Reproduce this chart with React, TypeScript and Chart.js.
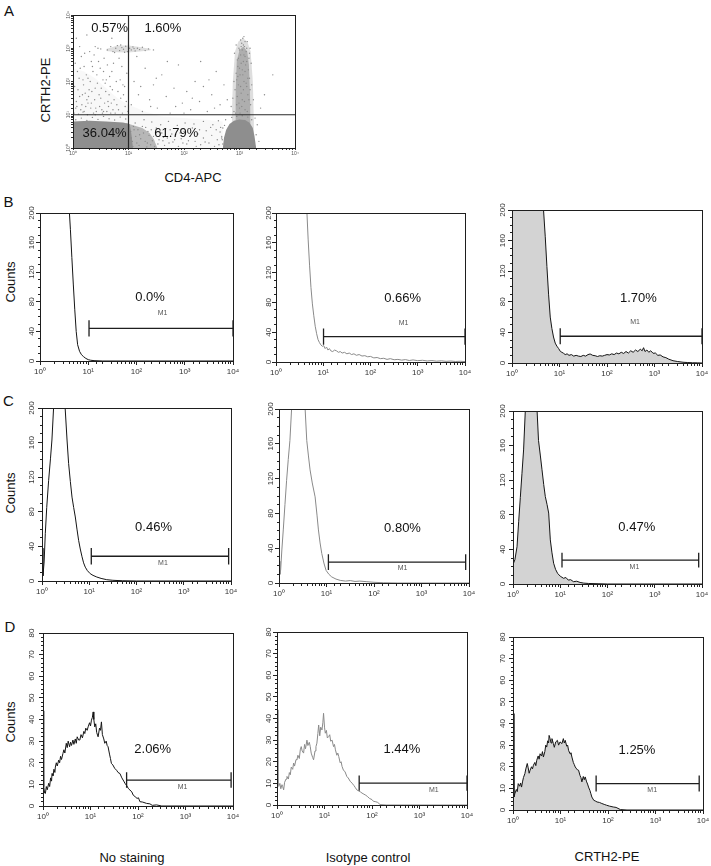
import React, { useEffect, useRef } from "react";
import { Chart, registerables } from "chart.js";
Chart.register(...registerables);

const FONT = '"Liberation Sans", Arial, Helvetica, sans-serif';
type Pt = [number, number];
type Txt = [number, number, string];

// ================= Panel A (values in log10 units) =================
const aCoreLowLeft: Pt[] = [[0, 0.8], [0.3, 0.82], [0.6, 0.8], [0.9, 0.77], [1.02, 0.72], [1.05, 0.45], [1.08, 0]];
const aHaloLowLeft: Pt[] = [[0.95, 0.75], [1.1, 0.68], [1.25, 0.6], [1.38, 0.45], [1.46, 0.25], [1.52, 0]];
const aCoreLowRight: Pt[] = [[2.7, 0], [2.72, 0.3], [2.76, 0.55], [2.82, 0.72], [2.9, 0.82], [3.0, 0.86], [3.1, 0.84], [3.18, 0.76], [3.24, 0.6], [3.27, 0.35], [3.3, 0]];
const aStreakOuter: Pt[] = [[2.86, 0.8], [2.88, 2.0], [2.92, 2.9], [2.98, 3.2], [3.06, 3.3], [3.14, 3.2], [3.2, 2.9], [3.24, 2.0], [3.26, 0.8]];
const aStreakInner: Pt[] = [[2.92, 0.8], [2.93, 1.6], [2.95, 2.6], [3.0, 2.95], [3.07, 3.05], [3.14, 2.9], [3.17, 2.5], [3.19, 1.6], [3.2, 0.8]];
const aBandTop: Pt[] = [[0.6, 2.98], [0.8, 3.08], [1.0, 3.08], [1.2, 3.04], [1.4, 2.98]];
const aBandBottom: Pt[] = [[0.6, 2.92], [0.8, 2.88], [1.0, 2.87], [1.2, 2.9], [1.4, 2.94]];
const aHaze: Pt[] = [[0, 2.4], [0.2, 2.3], [0.4, 2.1], [0.6, 1.8], [0.8, 1.5], [1.0, 1.3], [1.3, 1.1], [1.6, 0.95], [2.0, 0.9], [2.4, 0.85], [2.7, 0.8]];
const aDotsUpperLeft: Pt[] = [[0.05, 1.2], [0.12, 1.55], [0.2, 1.1], [0.27, 2.1], [0.33, 1.35], [0.4, 1.8], [0.46, 2.6], [0.52, 1.15], [0.58, 1.95], [0.63, 1.4], [0.7, 2.3], [0.76, 1.05], [0.81, 1.7], [0.88, 2.45], [0.94, 1.25], [0.08, 2.3], [0.15, 2.75], [0.22, 1.65], [0.3, 2.9], [0.37, 1.05], [0.43, 2.2], [0.5, 1.5], [0.56, 2.7], [0.61, 1.1], [0.67, 1.85], [0.73, 2.55], [0.79, 1.3], [0.85, 2.05], [0.91, 1.6], [0.97, 2.25], [0.03, 1.85], [0.1, 1.02], [0.18, 2.05], [0.25, 1.45], [0.35, 2.45], [0.48, 1.25], [0.55, 2.3], [0.65, 1.6], [0.72, 1.15], [0.83, 2.7], [0.9, 1.9], [0.16, 1.3], [0.29, 1.75], [0.41, 1.2], [0.6, 2.05], [0.69, 1.35], [0.45, 3.0], [0.2, 2.45], [0.12, 3.05], [0.38, 2.8]];
const aDotsUpperLeft2: Pt[] = [[0.02, 1.05], [0.06, 1.4], [0.09, 1.75], [0.11, 2.1], [0.14, 1.15], [0.17, 1.6], [0.19, 1.9], [0.23, 1.25], [0.24, 2.2], [0.26, 1.0], [0.28, 1.55], [0.31, 2.0], [0.32, 1.2], [0.34, 1.7], [0.36, 2.3], [0.39, 1.45], [0.42, 1.1], [0.44, 1.95], [0.47, 1.6], [0.49, 2.4], [0.51, 1.8], [0.53, 1.05], [0.54, 2.05], [0.57, 1.35], [0.59, 1.7], [0.62, 2.5], [0.64, 1.25], [0.66, 2.15], [0.68, 1.05], [0.71, 1.75], [0.74, 1.45], [0.78, 2.0], [0.82, 1.15], [0.86, 1.5], [0.89, 1.05], [0.93, 1.85], [0.96, 1.4], [0.99, 1.1], [0.04, 2.55], [0.07, 1.25], [0.13, 2.4], [0.21, 2.85], [0.27, 1.35], [0.33, 2.6], [0.4, 1.0], [0.06, 3.3], [0.25, 3.4], [0.7, 3.3], [0.55, 1.1], [0.18, 1.08]];
const aDotsUpperRight: Pt[] = [[1.05, 1.3], [1.1, 2.0], [1.18, 1.6], [1.25, 1.1], [1.3, 2.4], [1.38, 1.45], [1.45, 1.9], [1.52, 1.2], [1.6, 2.2], [1.68, 1.55], [1.75, 1.05], [1.82, 1.8], [1.9, 2.5], [1.97, 1.35], [2.05, 1.7], [2.12, 1.15], [2.2, 2.0], [2.28, 1.4], [2.35, 1.85], [2.42, 1.1], [2.5, 1.6], [2.58, 2.3], [2.65, 1.3], [2.72, 1.9], [1.15, 2.75], [1.4, 1.25], [1.7, 2.6], [2.0, 1.05], [2.3, 2.6], [2.55, 1.2], [1.22, 1.85], [1.5, 2.1], [1.85, 1.25], [2.15, 1.5], [2.45, 2.05], [2.78, 1.45], [3.45, 1.6], [3.6, 2.2], [3.38, 1.2]];
const aDotsBand: Pt[] = [[0.62, 2.95], [0.68, 3.05], [0.72, 2.9], [0.77, 3.0], [0.8, 3.08], [0.84, 2.93], [0.88, 3.02], [0.91, 2.97], [0.95, 3.06], [0.98, 2.9], [1.02, 3.0], [1.05, 2.95], [1.08, 3.04], [1.12, 2.92], [1.16, 3.0], [1.2, 2.96], [1.25, 3.03], [1.3, 2.93], [1.36, 2.98], [0.86, 3.1], [0.93, 2.88], [1.0, 3.1], [1.1, 2.99], [0.75, 2.87], [0.5, 2.98], [0.4, 3.05], [1.45, 2.95]];
const aDotsStreak: Pt[] = [[2.9, 1.1], [2.95, 1.3], [3.0, 1.2], [3.05, 1.45], [3.1, 1.15], [3.15, 1.6], [3.2, 1.3], [2.92, 1.75], [2.98, 1.9], [3.03, 1.65], [3.08, 2.0], [3.13, 1.85], [3.18, 2.1], [2.94, 2.25], [3.0, 2.4], [3.06, 2.2], [3.11, 2.5], [3.16, 2.35], [2.96, 2.65], [3.02, 2.8], [3.07, 2.6], [3.12, 2.9], [3.17, 2.7], [2.99, 3.0], [3.04, 3.15], [3.09, 3.05], [3.14, 3.2], [3.06, 3.3], [2.9, 2.0], [3.22, 1.9], [3.21, 2.55], [2.88, 1.5], [2.91, 2.85], [3.19, 3.0], [2.85, 1.25], [3.25, 1.45], [3.01, 1.05], [3.1, 2.75], [2.97, 2.15], [3.05, 2.95]];
const aDotsStreak2: Pt[] = [[2.93, 1.05], [2.96, 1.55], [2.99, 1.35], [3.02, 1.85], [3.04, 1.25], [3.07, 1.75], [3.09, 1.4], [3.12, 1.95], [3.14, 1.1], [3.17, 1.45], [3.19, 1.75], [2.95, 2.05], [2.97, 2.45], [3.01, 2.2], [3.03, 2.55], [3.05, 2.35], [3.08, 2.8], [3.1, 2.3], [3.13, 2.6], [3.15, 2.1], [2.98, 2.7], [3.0, 2.95], [3.03, 3.05], [3.07, 3.1], [3.1, 3.2], [3.13, 3.0], [3.02, 3.25], [3.08, 3.35], [2.94, 3.1], [3.18, 2.85]];
const aDotsLowMid: Pt[] = [[1.05, 0.3], [1.1, 0.55], [1.15, 0.15], [1.2, 0.4], [1.25, 0.65], [1.3, 0.2], [1.35, 0.5], [1.4, 0.1], [1.45, 0.35], [1.5, 0.6], [1.55, 0.25], [1.6, 0.45], [1.65, 0.08], [1.7, 0.3], [1.75, 0.55], [1.8, 0.18], [1.85, 0.4], [1.9, 0.05], [1.95, 0.28], [2.0, 0.5], [2.05, 0.12], [2.1, 0.35], [2.15, 0.6], [2.2, 0.2], [2.25, 0.42], [2.3, 0.1], [2.35, 0.3], [2.4, 0.52], [2.45, 0.15], [2.5, 0.38], [2.55, 0.05], [2.6, 0.25], [2.65, 0.48], [2.7, 0.12], [1.12, 0.75], [1.28, 0.85], [1.42, 0.78], [1.58, 0.7], [1.72, 0.8], [1.88, 0.68], [2.02, 0.75], [2.18, 0.72], [2.35, 0.8], [2.52, 0.7], [2.62, 0.82], [1.08, 0.05], [1.33, 0.03], [1.62, 0.22], [1.98, 0.15], [2.28, 0.55], [2.48, 0.62], [2.68, 0.35]];
const aDotsLowMid2: Pt[] = [[1.04, 0.5], [1.07, 0.2], [1.09, 0.65], [1.13, 0.35], [1.17, 0.55], [1.19, 0.08], [1.22, 0.28], [1.27, 0.45], [1.31, 0.62], [1.34, 0.15], [1.37, 0.38], [1.41, 0.55], [1.43, 0.22], [1.47, 0.05], [1.49, 0.42], [1.53, 0.12], [1.57, 0.52], [1.63, 0.32], [1.67, 0.58], [1.73, 0.15], [1.78, 0.42], [1.83, 0.25], [1.93, 0.45], [2.08, 0.22], [2.22, 0.05], [2.38, 0.18], [2.58, 0.55], [2.63, 0.1], [2.66, 0.62], [2.69, 0.25]];
const aDotsFringe: Pt[] = [[0.05, 0.85], [0.15, 0.9], [0.25, 0.83], [0.35, 0.92], [0.45, 0.86], [0.55, 0.95], [0.65, 0.88], [0.75, 0.84], [0.85, 0.93], [0.95, 0.87], [2.7, 0.6], [2.68, 0.3], [3.3, 0.4], [3.32, 0.7], [3.35, 0.2], [3.28, 0.9], [2.75, 0.85], [2.86, 0.92], [2.95, 0.95], [3.05, 0.97], [3.15, 0.93], [3.22, 0.85], [2.73, 0.68]];
const aGate: Pt = [1, 1];
const aPercents: Txt[] = [[0.66, 3.59, "0.57%"], [1.62, 3.59, "1.60%"], [0.57, 0.45, "36.04%"], [1.86, 0.45, "61.79%"]];

// ================= Histograms (x in log10 units, y = counts) =================
const bNoStain: Pt[] = [[0, 200], [0.61, 200], [0.63, 178], [0.66, 140], [0.69, 104], [0.72, 70], [0.75, 40], [0.78, 22], [0.82, 13], [0.86, 8.5], [0.9, 6], [0.95, 3.5], [1.0, 1.8], [1.05, 1], [1.12, 0.5], [1.3, 0], [4.0, 0]];
const bIsotype: Pt[] = [[0, 200], [0.655, 200], [0.68, 165], [0.71, 130], [0.74, 100], [0.77, 78], [0.8, 62], [0.83, 48], [0.86, 38], [0.89, 30], [0.92, 26], [0.95, 23], [0.98, 21], [1.01, 22], [1.04, 18], [1.07, 20], [1.1, 16], [1.13, 18], [1.16, 15], [1.2, 14], [1.24, 16], [1.28, 15], [1.32, 13], [1.36, 14], [1.4, 12], [1.45, 13], [1.5, 11], [1.55, 12], [1.6, 10], [1.65, 11], [1.7, 9], [1.76, 10], [1.82, 8], [1.88, 8.5], [1.94, 7], [2.0, 7.5], [2.07, 5.5], [2.14, 6], [2.21, 4.5], [2.28, 5], [2.35, 3.5], [2.42, 4.5], [2.5, 3], [2.58, 3.5], [2.66, 2.5], [2.74, 3.2], [2.82, 2], [2.9, 2.8], [3.0, 1.8], [3.1, 2.3], [3.2, 1.4], [3.3, 1.9], [3.4, 1.1], [3.5, 1.6], [3.6, 0.9], [3.7, 1.3], [3.8, 0.7], [3.9, 1.0], [4.0, 0.6]];
const bCrth2: Pt[] = [[0, 200], [0.664, 200], [0.7, 165], [0.735, 126], [0.77, 90], [0.805, 60], [0.84, 45], [0.874, 34], [0.91, 26], [0.945, 22], [0.98, 19], [1.02, 15], [1.05, 14], [1.085, 12.7], [1.12, 11], [1.16, 12], [1.2, 10], [1.25, 11], [1.3, 9], [1.35, 10], [1.4, 9], [1.45, 8.5], [1.5, 10], [1.55, 9], [1.6, 11], [1.645, 11.8], [1.7, 10], [1.75, 9.5], [1.8, 8.5], [1.85, 9.5], [1.9, 9], [1.95, 10], [2.0, 11], [2.05, 10.5], [2.1, 12], [2.15, 11], [2.2, 13], [2.25, 12], [2.3, 14], [2.35, 12.5], [2.4, 15], [2.45, 13], [2.5, 16], [2.55, 14], [2.6, 17], [2.65, 15], [2.7, 18], [2.74, 16], [2.77, 20], [2.8, 15], [2.84, 17], [2.88, 14], [2.92, 16], [2.97, 12.7], [3.02, 13], [3.07, 10], [3.12, 10.5], [3.18, 8], [3.24, 7], [3.3, 5], [3.39, 3], [3.48, 2], [3.6, 1], [3.7, 0.6], [3.8, 0.3], [3.9, 0.2], [4.0, 0]];
const cNoStain: Pt[] = [[0, 38], [0.02, 6], [0.045, 22], [0.07, 55], [0.1, 85], [0.14, 116], [0.18, 142], [0.21, 163], [0.245, 200], [0.49, 200], [0.53, 163], [0.563, 136], [0.6, 115], [0.635, 97], [0.67, 85], [0.705, 74], [0.74, 60], [0.775, 47], [0.81, 37], [0.847, 28], [0.88, 21], [0.916, 16], [0.96, 12], [1.02, 8.5], [1.08, 6.5], [1.16, 4.6], [1.25, 3], [1.37, 1.5], [1.5, 0.8], [1.7, 0.3], [2.0, 0], [4.0, 0]];
const cIsotype: Pt[] = [[0, 25], [0.02, 10], [0.035, 15], [0.06, 38], [0.09, 61], [0.125, 90], [0.16, 118], [0.195, 142], [0.23, 164], [0.265, 200], [0.55, 200], [0.584, 164], [0.62, 146], [0.654, 130], [0.7, 115], [0.76, 99], [0.8, 78], [0.83, 61], [0.865, 46], [0.9, 34], [0.945, 23], [0.99, 14.6], [1.05, 10], [1.11, 7], [1.2, 4.5], [1.29, 3], [1.4, 2.2], [1.5, 2.8], [1.6, 1.8], [1.7, 2.2], [1.85, 1.5], [2.0, 0.8], [2.2, 0.3], [2.5, 0], [4.0, 0]];
const cCrth2: Pt[] = [[0, 95], [0.01, 24], [0.04, 28], [0.085, 43], [0.12, 72], [0.155, 100], [0.19, 128], [0.224, 155], [0.26, 200], [0.51, 200], [0.54, 166], [0.58, 148], [0.614, 132], [0.65, 115], [0.684, 101], [0.72, 92], [0.755, 82], [0.79, 51], [0.825, 36], [0.86, 24], [0.9, 17], [0.944, 12.3], [1.0, 9], [1.07, 6.6], [1.12, 7.5], [1.17, 4.5], [1.22, 5], [1.28, 2.7], [1.35, 3.2], [1.42, 1.8], [1.5, 1], [1.6, 0.6], [1.8, 0.3], [2.0, 0], [4.0, 0]];
const dNoStain: Pt[] = [[0, 44], [0.015, 8.9], [0.035, 6], [0.05, 5.8], [0.07, 9], [0.09, 7.5], [0.12, 10.5], [0.14, 9], [0.16, 13], [0.18, 11.5], [0.19, 15], [0.21, 14], [0.23, 17], [0.25, 15.5], [0.26, 18], [0.28, 20], [0.3, 18.5], [0.33, 21.2], [0.35, 20], [0.37, 23], [0.39, 21.5], [0.42, 24.3], [0.44, 26], [0.46, 24.5], [0.49, 29], [0.51, 27], [0.53, 30], [0.56, 27.4], [0.58, 29.5], [0.6, 28], [0.63, 30.5], [0.65, 28.5], [0.68, 31], [0.7, 29], [0.72, 32], [0.75, 30.5], [0.775, 30.5], [0.8, 33], [0.83, 31.5], [0.86, 34.5], [0.88, 33.5], [0.9, 36], [0.93, 35], [0.95, 36.6], [0.98, 38.5], [1.0, 37], [1.02, 39.7], [1.04, 41], [1.056, 43.5], [1.07, 40], [1.09, 36.6], [1.11, 38], [1.13, 34], [1.16, 32], [1.19, 36], [1.21, 35], [1.23, 38.9], [1.25, 33], [1.28, 31], [1.3, 29], [1.33, 30], [1.35, 28], [1.37, 27.4], [1.4, 24], [1.42, 22], [1.44, 19.7], [1.47, 19], [1.51, 17.4], [1.55, 16.5], [1.58, 15.5], [1.62, 15], [1.66, 13], [1.7, 11.5], [1.725, 10.5], [1.76, 9.5], [1.8, 8], [1.83, 7.4], [1.87, 6.5], [1.9, 5], [1.94, 4.3], [1.98, 3.5], [2.01, 3.8], [2.04, 2], [2.1, 1.8], [2.18, 1.2], [2.25, 1.0], [2.3, 0.3], [2.39, 0.5], [2.5, 0], [4.0, 0]];
const dIsotype: Pt[] = [[0, 44], [0.02, 9], [0.035, 8.6], [0.06, 10], [0.08, 7.5], [0.105, 9.4], [0.12, 8.5], [0.14, 7], [0.16, 10.5], [0.19, 12], [0.21, 13.2], [0.24, 12], [0.26, 15], [0.28, 14], [0.3, 17.5], [0.33, 16.5], [0.35, 19.4], [0.37, 18], [0.4, 21], [0.42, 20.9], [0.44, 23], [0.47, 21.5], [0.49, 25.5], [0.51, 27], [0.53, 25], [0.56, 24], [0.58, 28], [0.6, 26], [0.63, 30], [0.65, 27.5], [0.68, 29], [0.7, 27], [0.72, 24], [0.75, 22], [0.77, 20.9], [0.8, 25], [0.82, 27], [0.84, 28.6], [0.86, 33], [0.877, 37], [0.9, 32], [0.92, 36], [0.947, 34.7], [0.965, 38], [0.98, 42.4], [1.0, 36], [1.017, 33.2], [1.04, 34.5], [1.06, 31], [1.087, 31.6], [1.11, 32.5], [1.13, 29.5], [1.16, 30], [1.19, 27], [1.21, 28], [1.23, 25.5], [1.26, 23], [1.28, 24], [1.3, 22.4], [1.33, 19.5], [1.35, 20], [1.37, 17.8], [1.4, 16], [1.43, 15.5], [1.47, 13.2], [1.5, 12.5], [1.54, 11], [1.58, 10.1], [1.62, 9], [1.65, 8], [1.68, 7], [1.72, 6.5], [1.76, 6], [1.79, 5.5], [1.83, 5], [1.87, 4.5], [1.9, 4], [1.95, 3], [2.0, 2.5], [2.03, 1.7], [2.08, 1.5], [2.12, 1.2], [2.17, 0.2], [2.3, 0], [4.0, 0]];
const dCrth2: Pt[] = [[0, 44.6], [0.02, 6], [0.04, 7.6], [0.07, 9.5], [0.09, 8.5], [0.11, 12.2], [0.14, 11], [0.16, 12.5], [0.18, 10.6], [0.2, 13], [0.22, 15], [0.25, 16.8], [0.27, 19], [0.3, 21.5], [0.32, 19.5], [0.34, 17], [0.36, 18.4], [0.39, 20], [0.41, 19], [0.43, 20.7], [0.46, 22], [0.48, 20.5], [0.5, 23], [0.53, 25], [0.55, 23.5], [0.57, 26], [0.6, 25], [0.62, 27], [0.64, 24.5], [0.67, 27], [0.69, 30], [0.71, 29.1], [0.73, 32], [0.75, 31], [0.76, 34.5], [0.78, 33], [0.8, 31], [0.82, 33], [0.85, 30.7], [0.87, 29], [0.9, 31.5], [0.935, 32.2], [0.96, 30], [0.99, 31.5], [1.03, 30.7], [1.06, 33], [1.08, 31], [1.1, 32.2], [1.13, 29.5], [1.15, 30], [1.17, 27.6], [1.2, 26], [1.22, 26.5], [1.24, 24.5], [1.27, 22], [1.29, 21], [1.31, 19.9], [1.34, 19], [1.36, 18.5], [1.38, 18.4], [1.41, 16], [1.43, 15], [1.45, 13], [1.48, 15.5], [1.5, 14], [1.52, 15.3], [1.55, 13], [1.57, 12], [1.59, 10.6], [1.62, 9], [1.64, 7.5], [1.66, 6], [1.7, 4.5], [1.73, 4.2], [1.77, 3.7], [1.82, 3.5], [1.87, 3], [1.92, 2.6], [1.97, 2.2], [2.03, 1.8], [2.11, 1.4], [2.17, 1.2], [2.26, 0.2], [2.4, 0], [4.0, 0]];

// Gates: [log10 start, log10 end, count level, half tick height]
const gateB1 = [1.016, 4, 44, 11];
const gateB2 = [1.006, 4, 34, 11];
const gateB3 = [1.015, 4, 35, 10.5];
const gateC1 = [1.043, 3.95, 28.6, 9.5];
const gateC2 = [1.04, 3.93, 24, 9];
const gateC3 = [1.037, 3.93, 27.7, 8.5];
const gateD1 = [1.76, 3.96, 12, 3.6];
const gateD2 = [1.73, 4, 10.1, 3.5];
const gateD3 = [1.75, 3.92, 12.2, 3.7];

// Percent labels [log10 x, count, text]
const pctB: Txt[] = [[2.28, 86, "0.0%"], [2.68, 86, "0.66%"], [2.66, 85, "1.70%"]];
const pctC: Txt[] = [[2.36, 62, "0.46%"], [2.6, 63, "0.80%"], [2.62, 65, "0.47%"]];
const pctD: Txt[] = [[2.31, 26, "2.06%"], [2.63, 25.5, "1.44%"], [2.61, 27.6, "1.25%"]];
const m1B: Pt[] = [[2.54, 65], [2.7, 52], [2.59, 53]];
const m1C: Pt[] = [[2.56, 21], [2.6, 17], [2.57, 20]];
const m1D: Pt[] = [[2.94, 8.6], [3.3, 7], [2.93, 9.1]];

const columnTitles = ["No staining", "Isotype control", "CRTH2-PE"];
const panelLetters = ["A", "B", "C", "D"];
const yLabelA = "CRTH2-PE";
const xLabelA = "CD4-APC";
const countsLabel = "Counts";

// ================= helpers =================
const SUP: Record<number, string> = { 0: "\u2070", 1: "\u00B9", 2: "\u00B2", 3: "\u00B3", 4: "\u2074" };
const isPow10 = (v: number) => {
  const l = Math.log10(v);
  return Math.abs(l - Math.round(l)) < 1e-6;
};
const logLabel = (v: number) => (isPow10(v) ? "10" + SUP[Math.round(Math.log10(v))] : "");
const toLin = (arr: Pt[]) => arr.map(([lx, y]) => ({ x: Math.pow(10, lx), y }));
const toLogLog = (arr: Pt[]) => arr.map(([lx, ly]) => ({ x: Math.pow(10, lx), y: Math.pow(10, ly) }));
const gatePts = (g: number[]) => {
  const [l1, l2, y, hh] = g;
  const x1 = Math.pow(10, l1), x2 = Math.pow(10, l2);
  return [
    { x: x1, y: y + hh }, { x: x1, y: y - hh }, { x: x1, y },
    { x: x2, y }, { x: x2, y: y + hh }, { x: x2, y: y - hh },
  ];
};

const boxPlugin = {
  id: "box",
  afterDatasetsDraw(chart: any) {
    const { ctx, chartArea: a } = chart;
    ctx.save();
    ctx.strokeStyle = "#1e1e1e";
    ctx.lineWidth = 1;
    ctx.strokeRect(Math.round(a.left) + 0.5, Math.round(a.top) + 0.5, Math.round(a.right) - Math.round(a.left), Math.round(a.bottom) - Math.round(a.top));
    ctx.restore();
  },
};

type Ann = { x: number; y: number; text: string; size: number; color: string };
const makeAnnot = (items: Ann[]) => ({
  id: "annot",
  afterDatasetsDraw(chart: any) {
    const { ctx } = chart;
    const xs = chart.scales.x, ys = chart.scales.y;
    ctx.save();
    ctx.textAlign = "center";
    ctx.textBaseline = "middle";
    for (const it of items) {
      ctx.font = `${it.size}px ${FONT}`;
      ctx.fillStyle = it.color;
      ctx.fillText(it.text, xs.getPixelForValue(it.x), ys.getPixelForValue(it.y));
    }
    ctx.restore();
  },
});

// ================= Panel A =================
function ScatterA() {
  const ref = useRef<HTMLCanvasElement>(null);
  const l = 73, t = 15, r = 295, b = 148;
  const YW = 10, XH = 10, PT = 6, PR = 7, TL = 2;
  const w = r - l + YW + PR, h = b - t + PT + XH;
  useEffect(() => {
    const dots = [...aDotsUpperLeft, ...aDotsUpperLeft2, ...aDotsUpperRight, ...aDotsBand, ...aDotsStreak, ...aDotsStreak2, ...aDotsLowMid, ...aDotsLowMid2, ...aDotsFringe];
    const solid = "#8e8e8e";
    const poly = (d: Pt[], color: string, fill: any = "start") => ({
      data: toLogLog(d), borderWidth: 0, borderColor: "transparent", pointRadius: 0, fill, backgroundColor: color,
    });
    const chart = new Chart(ref.current as HTMLCanvasElement, {
      type: "line",
      data: {
        datasets: [
          { data: toLogLog([[0, aGate[1]], [4, aGate[1]]]), borderColor: "#2a2a2a", borderWidth: 1.2, pointRadius: 0, fill: false },
          { data: toLogLog([[aGate[0], 0], [aGate[0], 4]]), borderColor: "#2a2a2a", borderWidth: 1.2, pointRadius: 0, fill: false },
          { data: toLogLog(dots), showLine: false, pointRadius: 0.7, pointBorderWidth: 0, pointBackgroundColor: "#8a8a8a", fill: false },
          poly(aCoreLowLeft, solid),
          poly(aCoreLowRight, solid),
          poly(aHaloLowLeft, "rgba(140,140,140,0.6)"),
          poly(aStreakInner, "rgba(115,115,115,0.45)"),
          poly(aStreakOuter, "rgba(145,145,145,0.3)"),
          poly(aBandTop, "rgba(150,150,150,0.3)", "+1"),
          poly(aBandBottom, "transparent", false),
          poly(aHaze, "rgba(165,165,165,0.08)"),
        ] as any,
      },
      options: {
        responsive: false, animation: false, events: [],
        layout: { padding: { top: PT, right: PR, left: 0, bottom: 0 } },
        plugins: { legend: { display: false }, tooltip: { enabled: false } },
        scales: {
          x: {
            type: "logarithmic", min: 1, max: 10000,
            afterFit: (s: any) => { s.height = XH; },
            grid: { drawOnChartArea: false, drawTicks: true, tickLength: TL, tickColor: "#333" },
            border: { display: true, color: "#222", width: 1 },
            ticks: { autoSkip: false, maxRotation: 0, minRotation: 0, padding: 1, color: "#555", font: { size: 5, family: FONT }, callback: (v: any) => logLabel(Number(v)) },
          },
          y: {
            type: "logarithmic", min: 1, max: 10000,
            afterFit: (s: any) => { s.width = YW; },
            grid: { drawOnChartArea: false, drawTicks: true, tickLength: TL, tickColor: "#333" },
            border: { display: true, color: "#222", width: 1 },
            ticks: { autoSkip: false, minRotation: 90, maxRotation: 90, crossAlign: "center", padding: -1.9, color: "#555", font: { size: 5, family: FONT }, callback: (v: any) => logLabel(Number(v)) },
          },
        },
      } as any,
      plugins: [boxPlugin, makeAnnot(aPercents.map(([lx, ly, s]) => ({ x: Math.pow(10, lx), y: Math.pow(10, ly), text: s, size: 13, color: "#111" })))],
    });
    return () => chart.destroy();
  }, []);
  return <canvas ref={ref} width={w} height={h} style={{ position: "absolute", left: l - YW, top: t - PT, width: w, height: h }} />;
}

// ================= Histogram =================
type HistProps = {
  box: number[]; data: Pt[]; kind: "ns" | "iso" | "pe"; yMax: number; yStep: number; yLabelStep: number;
  gate: number[]; pct: Txt; m1: Pt; labOff: number;
};

function Hist(p: HistProps) {
  const ref = useRef<HTMLCanvasElement>(null);
  const [l, t, r, b] = p.box;
  const YW = 18, XH = 16, PT = 8, PR = 9, TL = 4;
  const w = r - l + YW + PR, h = b - t + PT + XH;
  useEffect(() => {
    const lineColor = p.kind === "iso" ? "#8a8a8a" : "#151515";
    const halfWidest = p.yMax >= 100 ? 6.7 : 4.45;
    const ann: Ann[] = [
      { x: Math.pow(10, p.pct[0]), y: p.pct[1], text: p.pct[2], size: 13, color: "#111" },
      { x: Math.pow(10, p.m1[0]), y: p.m1[1], text: "M1", size: 7, color: "#555" },
    ];
    const chart = new Chart(ref.current as HTMLCanvasElement, {
      type: "line",
      data: {
        datasets: [
          { data: gatePts(p.gate), borderColor: "#1e1e1e", borderWidth: 1.3, pointRadius: 0, fill: false },
          {
            data: toLin(p.data), borderColor: lineColor, borderWidth: 1, pointRadius: 0,
            fill: p.kind === "pe" ? "start" : false, backgroundColor: "#d3d3d3",
          },
        ] as any,
      },
      options: {
        responsive: false, animation: false, events: [],
        layout: { padding: { top: PT, right: PR, left: 0, bottom: 0 } },
        plugins: { legend: { display: false }, tooltip: { enabled: false } },
        scales: {
          x: {
            type: "logarithmic", min: 1, max: 10000,
            afterFit: (s: any) => { s.height = XH; },
            grid: {
              drawOnChartArea: false, drawTicks: true, tickLength: TL, tickColor: "#222", tickWidth: 1,
              tickBorderDash: (c: any) => (c.tick && !isPow10(c.tick.value) ? [2, 50] : []),
            },
            border: { display: true, color: "#222", width: 1 },
            ticks: { autoSkip: false, maxRotation: 0, minRotation: 0, padding: 2, color: "#333", font: { size: 8, family: FONT }, callback: (v: any) => logLabel(Number(v)) },
          },
          y: {
            type: "linear", min: 0, max: p.yMax,
            afterFit: (s: any) => { s.width = YW; },
            grid: {
              drawOnChartArea: false, drawTicks: true, tickLength: TL, tickColor: "#222", tickWidth: 1,
              tickBorderDash: (c: any) => (c.tick && Math.round(c.tick.value) % p.yLabelStep !== 0 ? [0, 2, 2, 50] : []),
            },
            border: { display: true, color: "#222", width: 1 },
            ticks: {
              stepSize: p.yStep, autoSkip: false, minRotation: 90, maxRotation: 90, crossAlign: "center",
              padding: p.labOff - TL - halfWidest, color: "#333", font: { size: 8, family: FONT },
              callback: (v: any) => (Math.round(Number(v)) % p.yLabelStep === 0 ? String(Math.round(Number(v))) : ""),
            },
          },
        },
      } as any,
      plugins: [boxPlugin, makeAnnot(ann)],
    });
    return () => chart.destroy();
  }, []);
  return <canvas ref={ref} width={w} height={h} style={{ position: "absolute", left: l - YW, top: t - PT, width: w, height: h }} />;
}

const Label = ({ x, y, text, size = 13, rot = false }: { x: number; y: number; text: string; size?: number; rot?: boolean }) => (
  <div
    style={{
      position: "absolute", left: x, top: y, transform: `translate(-50%,-50%)${rot ? " rotate(-90deg)" : ""}`,
      fontFamily: FONT, fontSize: size, color: "#111", whiteSpace: "nowrap", lineHeight: 1,
    }}
  >
    {text}
  </div>
);

export default function App() {
  const rowB = { yMax: 200, yStep: 10, yLabelStep: 40 };
  const rowD = { yMax: 80, yStep: 2, yLabelStep: 10 };
  return (
    <div style={{ position: "absolute", left: 0, top: 0, width: 711, height: 866, background: "#fff", overflow: "hidden" }}>
      <ScatterA />
      <Hist box={[40, 213, 233, 361]} data={bNoStain} kind="ns" {...rowB} gate={gateB1} pct={pctB[0]} m1={m1B[0]} labOff={8.3} />
      <Hist box={[276, 213, 465, 362]} data={bIsotype} kind="iso" {...rowB} gate={gateB2} pct={pctB[1]} m1={m1B[1]} labOff={7} />
      <Hist box={[512, 210, 702, 363]} data={bCrth2} kind="pe" {...rowB} gate={gateB3} pct={pctB[2]} m1={m1B[2]} labOff={9} />
      <Hist box={[42, 408, 231, 581]} data={cNoStain} kind="ns" {...rowB} gate={gateC1} pct={pctC[0]} m1={m1C[0]} labOff={10} />
      <Hist box={[279, 409, 469, 583]} data={cIsotype} kind="iso" {...rowB} gate={gateC2} pct={pctC[1]} m1={m1C[1]} labOff={8.3} />
      <Hist box={[513, 411, 702, 584]} data={cCrth2} kind="pe" {...rowB} gate={gateC3} pct={pctC[2]} m1={m1C[2]} labOff={10.4} />
      <Hist box={[43, 633, 233, 806]} data={dNoStain} kind="ns" {...rowD} gate={gateD1} pct={pctD[0]} m1={m1D[0]} labOff={11.6} />
      <Hist box={[277, 632, 467, 805]} data={dIsotype} kind="iso" {...rowD} gate={gateD2} pct={pctD[1]} m1={m1D[1]} labOff={8.4} />
      <Hist box={[513, 637, 703, 810]} data={dCrth2} kind="pe" {...rowD} gate={gateD3} pct={pctD[2]} m1={m1D[2]} labOff={10.7} />

      <Label x={9} y={9.5} text={panelLetters[0]} size={15} />
      <Label x={8.5} y={201} text={panelLetters[1]} size={15} />
      <Label x={8.5} y={400} text={panelLetters[2]} size={15} />
      <Label x={10} y={626} text={panelLetters[3]} size={15} />
      <Label x={45} y={90} text={yLabelA} rot />
      <Label x={193} y={177} text={xLabelA} />
      <Label x={10} y={281.7} text={countsLabel} rot />
      <Label x={10} y={493.3} text={countsLabel} rot />
      <Label x={9.5} y={721.7} text={countsLabel} rot />
      <Label x={132} y={856.5} text={columnTitles[0]} />
      <Label x={368} y={856.5} text={columnTitles[1]} />
      <Label x={607} y={855.5} text={columnTitles[2]} />
    </div>
  );
}
